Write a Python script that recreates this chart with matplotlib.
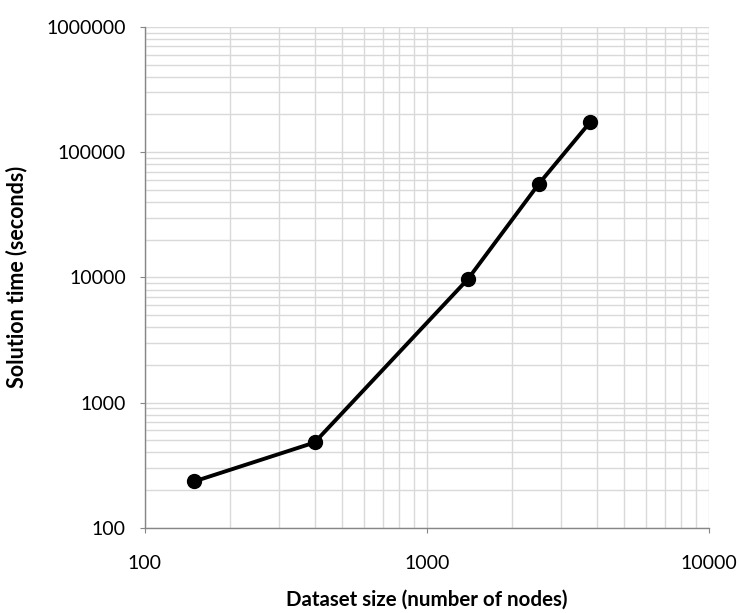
import numpy as np
import matplotlib
matplotlib.use("Agg")
import matplotlib.pyplot as plt
from matplotlib.ticker import LogLocator, FixedLocator, NullFormatter

dataset_size = [150, 400, 1400, 2500, 3800]
solution_time = [235, 480, 9700, 56000, 174000]

x_ticks = [100, 1000, 10000]
y_ticks = [100, 1000, 10000, 100000, 1000000]

plt.rcParams['font.family'] = ['Lato', 'DejaVu Sans']

fig = plt.figure(figsize=(7.39, 6.13), dpi=100)
ax = fig.add_axes([0.196, 0.139, 0.763, 0.817])

ax.plot(dataset_size, solution_time, color='black', linewidth=2.8,
        marker='o', markersize=10, zorder=3)

ax.set_xscale('log')
ax.set_yscale('log')
ax.set_xlim(100, 10000)
ax.set_ylim(100, 1000000)

ax.xaxis.set_major_locator(FixedLocator(x_ticks))
ax.yaxis.set_major_locator(FixedLocator(y_ticks))
ax.set_xticklabels([str(v) for v in x_ticks])
ax.set_yticklabels([str(v) for v in y_ticks])
ax.xaxis.set_minor_locator(LogLocator(base=10, subs=np.arange(2, 10)))
ax.yaxis.set_minor_locator(LogLocator(base=10, subs=np.arange(2, 10)))
ax.xaxis.set_minor_formatter(NullFormatter())
ax.yaxis.set_minor_formatter(NullFormatter())

ax.grid(True, which='both', color='#d9d9d9', linewidth=1)
ax.set_axisbelow(True)

for side in ['top', 'right']:
    ax.spines[side].set_visible(False)
for side in ['left', 'bottom']:
    ax.spines[side].set_color('#868686')
    ax.spines[side].set_linewidth(1)

ax.tick_params(which='major', direction='out', length=3.6, color='#868686',
               labelsize=14, labelcolor='black')
ax.tick_params(axis='x', which='major', pad=16)
ax.tick_params(axis='y', which='major', pad=10)
ax.tick_params(which='minor', length=0)

ax.set_xlabel('Dataset size (number of nodes)', fontsize=14.8, fontweight='bold',
              labelpad=13)
ax.set_ylabel('Solution time (seconds)', fontsize=15.5, fontweight='bold',
              labelpad=14)

fig.savefig('out.png', dpi=100)
